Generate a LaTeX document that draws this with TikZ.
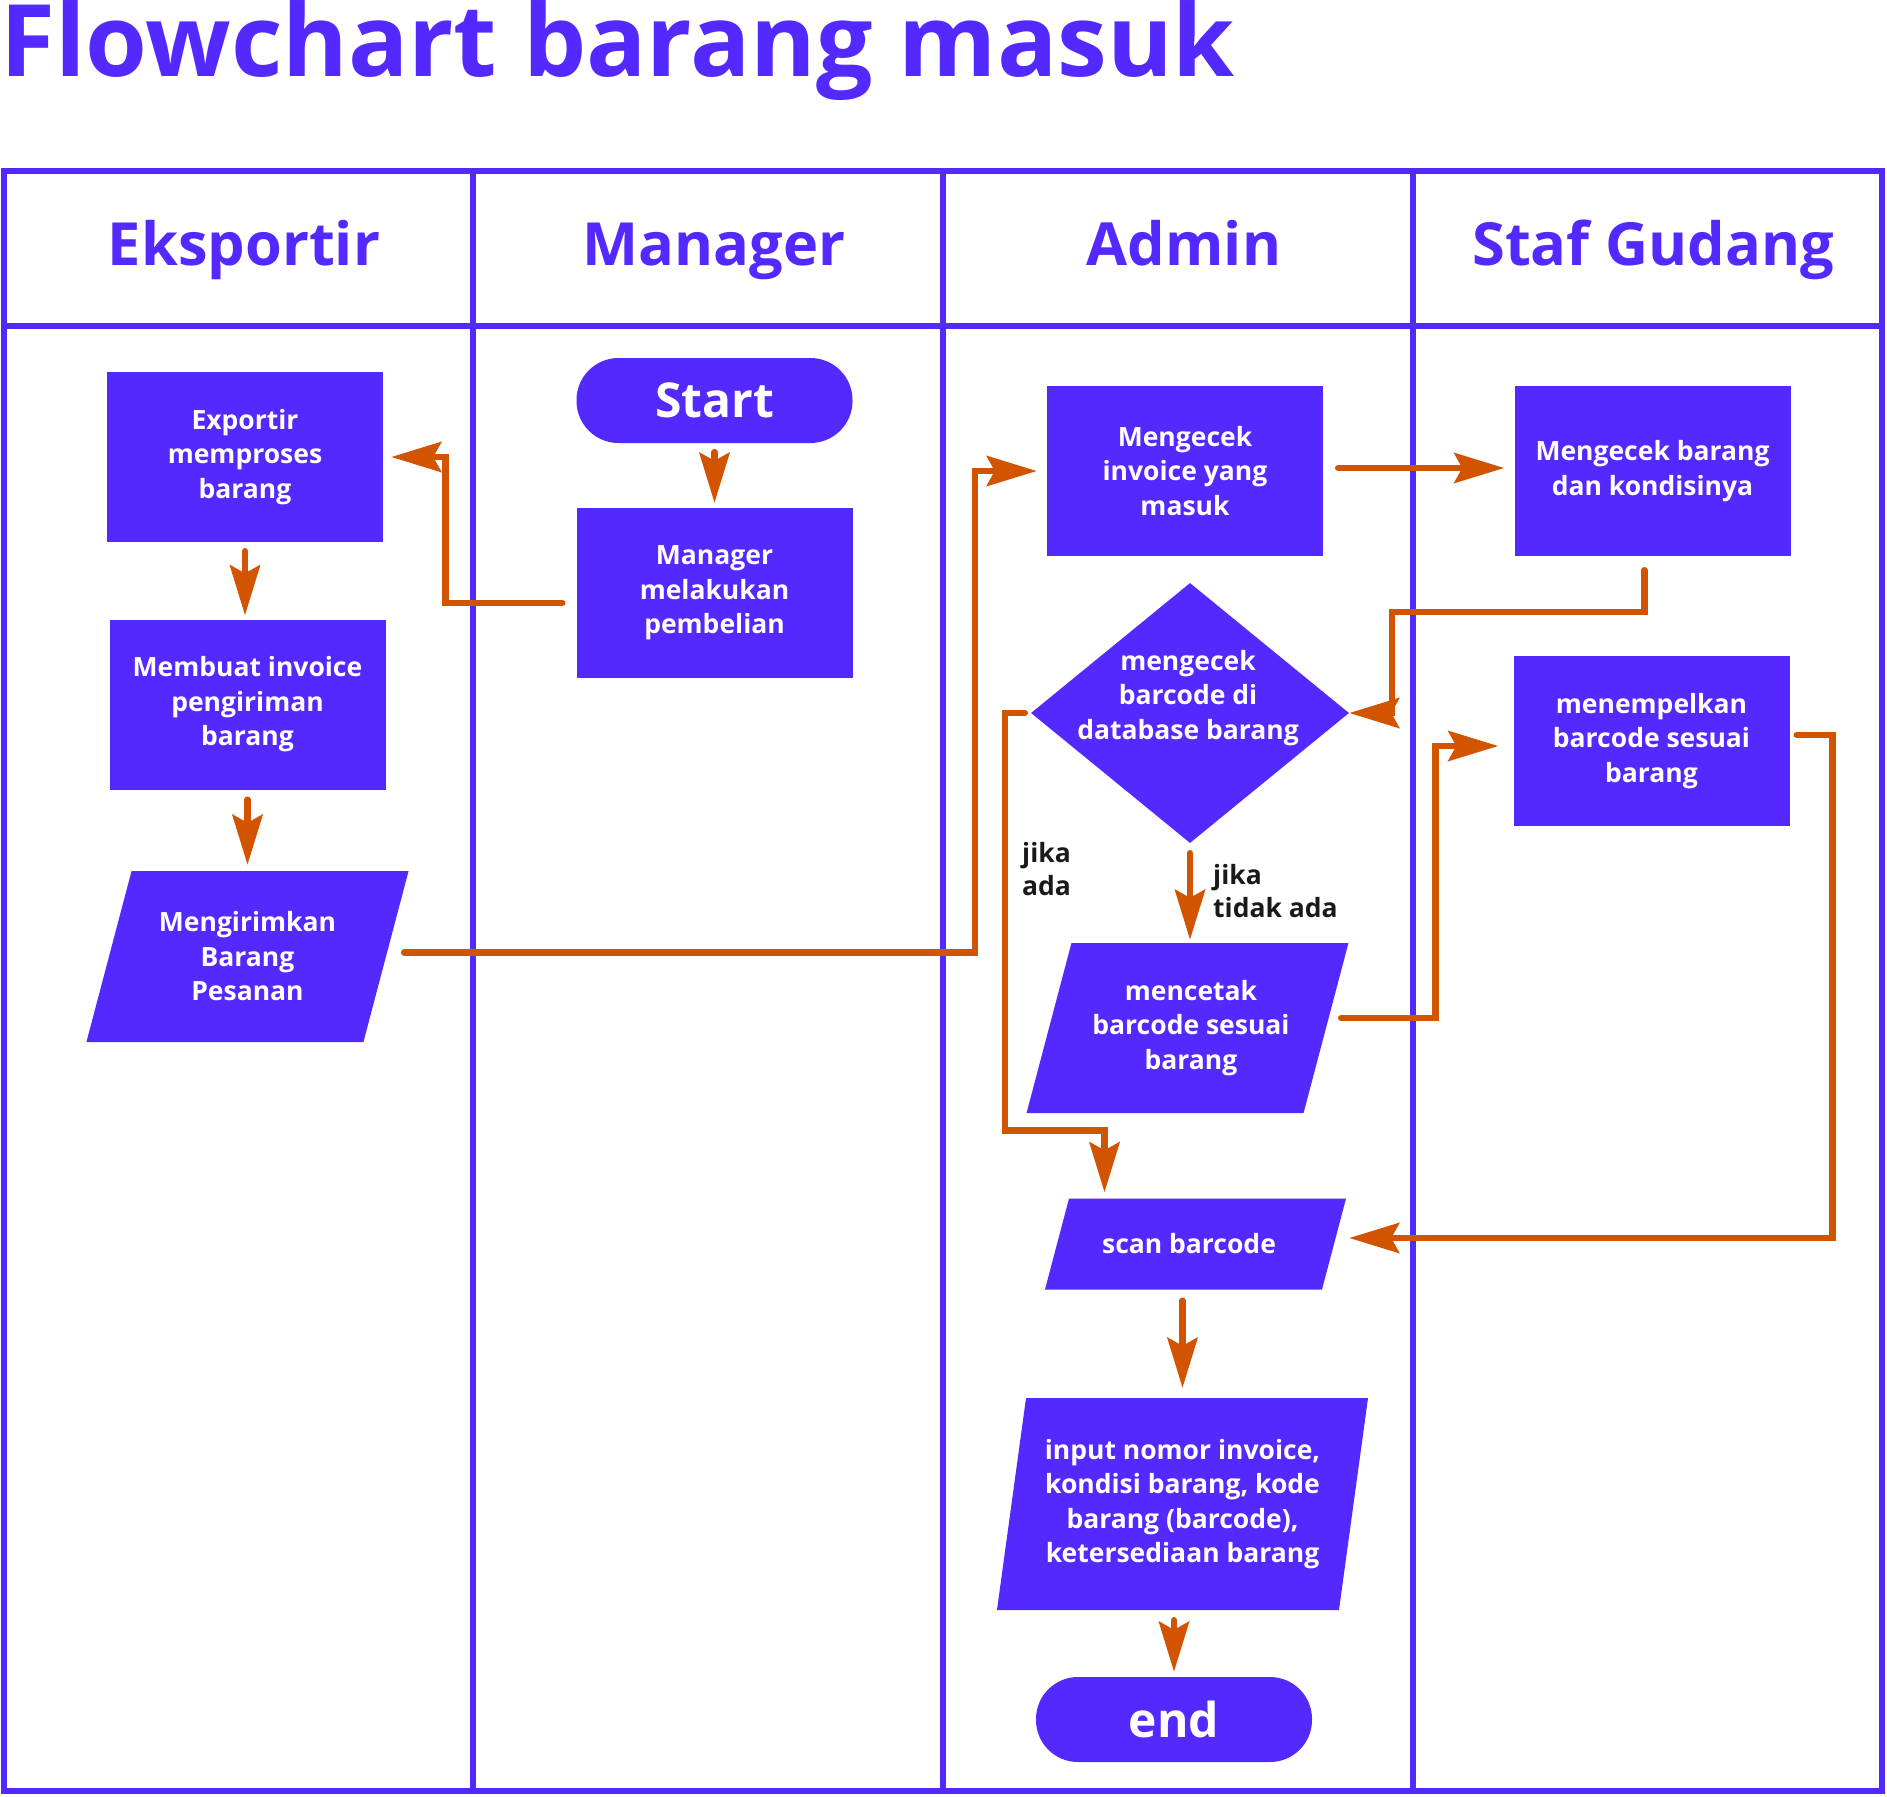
\documentclass[tikz,border=0pt]{standalone}
\usepackage{fontspec}
\IfFontExistsTF{Open Sans Bold}{\setmainfont{Open Sans}}{\setmainfont{Noto Sans}[AutoFakeBold=2.5, FakeStretch=1.05]}
\usepackage{tikz}
\usetikzlibrary{shapes.geometric, arrows.meta, calc}

\definecolor{ungu}{HTML}{5429FF}
\definecolor{oranye}{HTML}{D35400}
\definecolor{teks}{HTML}{1A1A1A}

\tikzset{
    kotak/.style={rectangle, fill=ungu, text=white, align=center, inner sep=0pt,
        font=\fontsize{26.5}{34.5}\selectfont\bfseries, minimum width=276pt, minimum height=170pt},
    jajar/.style={rectangle, fill=ungu, inner sep=0pt, minimum width=277pt, xslant=#1},
    jajar/.default=0.264,
    tulisan/.style={text=white, align=center, inner sep=0pt, font=\fontsize{26.5}{34.5}\selectfont\bfseries},
    terminal/.style={kotak, rounded corners=42pt, minimum height=85pt,
        font=\fontsize{48}{56}\selectfont\bfseries},
    keputusan/.style={diamond, fill=ungu, inner sep=0pt, minimum width=318pt, minimum height=260pt},
    judul/.style={text=ungu, inner sep=0pt, font=\fontsize{59.5}{68}\selectfont\bfseries},
    ket/.style={text=teks, align=left, inner sep=0pt, font=\fontsize{26.5}{33}\selectfont\bfseries},
    garis/.style={draw=ungu, line width=6.5pt},
    panah/.style={draw=oranye, line width=6.5pt, line cap=round,
        -{Stealth[length=50pt, width=30pt, inset=8pt]}},
}

\begin{document}
\begin{tikzpicture}[x=1pt, y=-1pt]
        \useasboundingbox (0,0) rectangle (1887,1796);

        % judul dan lajur
        \node[text=ungu, inner sep=0pt, anchor=base west, font=\fontsize{100}{110}\selectfont\bfseries] (judul) at (0, 76) {Flowchart barang masuk};
        \draw[garis] (4, 171) rectangle (1882, 1791);
        \draw[garis] (4, 326) -- (1882, 326);
        \foreach \x in {473, 943, 1413}
            \draw[garis] (\x, 171) -- (\x, 1791);
        \node[judul, anchor=base] (lajur1) at (244, 265) {Eksportir};
        \node[judul, anchor=base] (lajur2) at (714, 265) {Manager};
        \node[judul, anchor=base] (lajur3) at (1184, 265) {Admin};
        \node[judul, anchor=base] (lajur4) at (1653, 265) {Staf Gudang};

        % eksportir
        \node[kotak] (proses) at (245, 457) {Exportir\\memproses\\barang};
        \node[kotak] (invoice) at (247.5, 704.5) {Membuat invoice\\pengiriman\\barang};
        \node[jajar, minimum height=171pt] (kirim) at (247.5, 956.5) {};
        \node[tulisan] (kirimteks) at (kirim) {Mengirimkan\\Barang\\Pesanan};

        % manager
        \node[terminal] (start) at (714.5, 400.5) {Start};
        \node[kotak] (beli) at (714.5, 593) {Manager\\melakukan\\pembelian};

        % admin
        \node[kotak] (cekinv) at (1185, 471) {Mengecek\\invoice yang\\masuk};
        \node[keputusan] (cekbar) at (1190, 713) {};
        \node[tulisan] (cekbarteks) at (1188, 698) {mengecek\\barcode di\\database barang};
        \node[jajar, minimum height=170pt] (cetak) at (1187.5, 1028) {};
        \node[tulisan] (cetakteks) at (1191, 1028) {mencetak\\barcode sesuai\\barang};
        \node[jajar, minimum height=91pt] (scan) at (1195.5, 1244) {};
        \node[tulisan] (scanteks) at (1189, 1244) {scan barcode};
        \node[jajar=0.137, minimum width=342pt, minimum height=212pt] (input) at (1182.5, 1504) {};
        \node[tulisan] (inputteks) at (input) {input nomor invoice,\\kondisi barang, kode\\barang (barcode),\\ketersediaan barang};
        \node[terminal] (selesai) at (1174, 1719.5) {end};
        \node[ket, anchor=west] (ada) at (1022, 869) {jika\\ada};
        \node[ket, anchor=west] (tidak) at (1213, 891) {jika\\tidak ada};

        % staf gudang
        \node[kotak] (cekbrg) at (1652.5, 471) {Mengecek barang\\dan kondisinya};
        \node[kotak] (tempel) at (1651.5, 741) {menempelkan\\barcode sesuai\\barang};

        % panah
        \draw[panah, shorten <=9pt, shorten >=5pt] (start.south) -- (beli.north);
        \draw[panah, shorten <=14pt, shorten >=8pt] ([yshift=-10pt]beli.west) -- ++(-131, 0) |- (proses.east);
        \draw[panah, shorten <=9pt, shorten >=4pt] (proses.south) -- (proses.south |- invoice.north);
        \draw[panah, shorten <=10pt, shorten >=6pt] (invoice.south) -- (invoice.south |- kirim.north);
        \draw[panah, shorten <=18pt, shorten >=10pt] ([yshift=4pt]kirim.east) -| ($(cekinv.west)+(-72, 0)$) -- (cekinv.west);
        \draw[panah, shorten <=15pt, shorten >=10pt] ([yshift=3pt]cekinv.east) -- ([yshift=3pt]cekbrg.west);
        \draw[panah, shorten <=14pt] ([xshift=-8pt]cekbrg.south) -- ++(0, 56) -| ($(cekbar.east)+(43, 0)$) -- (cekbar.east);
        \draw[panah, shorten <=10pt, shorten >=3pt] (cekbar.south) -- (cekbar.south |- cetak.north);
        \draw[panah, shorten <=6pt, shorten >=6pt] (cekbar.west) -- ++(-26, 0) |- ($(scan.center |- scan.north)+(-91, -68)$) -- ($(scan.center |- scan.north)+(-91, 0)$);
        \draw[panah, shorten <=15pt, shorten >=15pt] ([yshift=10pt]cetak.east) -| ($(tempel.west)+(-78, 5)$) -- ([yshift=-5pt]tempel.west);
        \draw[panah, shorten <=7pt, shorten >=15pt] ([yshift=6pt]tempel.east) -- ++(43, 0) |- ([yshift=6pt]scan.east);
        \draw[panah, shorten <=11pt, shorten >=10pt] (input.center |- scan.south) -- (input.center |- input.north);
        \draw[panah, shorten <=10pt, shorten >=5pt] (selesai.north |- input.south) -- (selesai.north);
\end{tikzpicture}
\end{document}
